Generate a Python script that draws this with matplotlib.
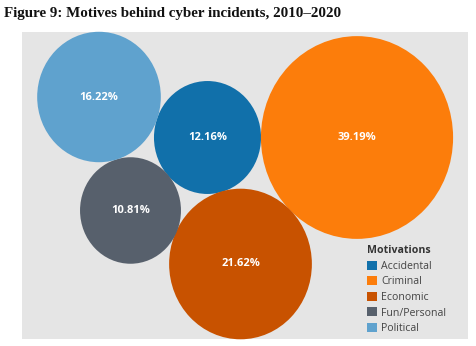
import numpy as np
import matplotlib
matplotlib.use("Agg")
import matplotlib.pyplot as plt
from matplotlib.patches import Ellipse, Rectangle, Patch

# ---- data ----
categories = ["Accidental", "Criminal", "Economic", "Fun/Personal", "Political"]
shares = [12.16, 39.19, 21.62, 10.81, 16.22]
labels = ["12.16%", "39.19%", "21.62%", "10.81%", "16.22%"]
title = "Figure 9: Motives behind cyber incidents, 2010\u20132020"
legend_title = "Motivations"

# ---- style / layout ----
colors = ["#1170aa", "#fc7d0b", "#c85200", "#57606c", "#5fa2ce"]
# bubble centres in pixel layout (packing positions)
centres = [(207.5, 137.5), (357, 137.5), (240.5, 264), (130.5, 210.5), (99, 97)]
scale = 15.35      # px radius per sqrt(percent)
ystretch = 1.055   # vertical stretch of the original image

W, H = 476, 346
fig = plt.figure(figsize=(W / 100, H / 100), dpi=100)
ax = fig.add_axes([0, 0, 1, 1])
ax.set_xlim(0, W)
ax.set_ylim(H, 0)
ax.axis("off")

# grey panel
ax.add_patch(Rectangle((22, 32), 446, 307, facecolor="#e5e5e5", edgecolor="none", zorder=0))

for cat, v, lab, col, (cx, cy) in zip(categories, shares, labels, colors, centres):
    r = scale * np.sqrt(v)
    ax.add_patch(Ellipse((cx, cy), 2 * r, 2 * r * ystretch, facecolor=col,
                         edgecolor="none", zorder=2))
    ax.text(cx, cy, lab, color="white", fontsize=8.0, fontweight="bold",
            family="Open Sans", ha="center", va="center", zorder=3)

ax.text(4, 17, title, fontsize=10.8, fontweight="bold", family="Liberation Serif",
        color="#111111", ha="left", va="baseline")

handles = [Patch(facecolor=c, edgecolor="none") for c in colors]
leg = ax.legend(handles, categories, loc="upper left",
                bbox_to_anchor=(365 / W, 1 - 243 / H), frameon=False,
                title=legend_title, alignment="left",
                prop={"family": "Open Sans", "size": 7.6},
                handlelength=0.95, handleheight=0.95, handletextpad=0.4,
                labelspacing=0.42, borderpad=0.2, borderaxespad=0)
leg.get_title().set_fontweight("bold")
leg.get_title().set_fontfamily("Open Sans")
leg.get_title().set_fontsize(7.6)
leg.get_title().set_color("#333333")
for t in leg.get_texts():
    t.set_color("#444444")

fig.savefig("out.png", dpi=100)
